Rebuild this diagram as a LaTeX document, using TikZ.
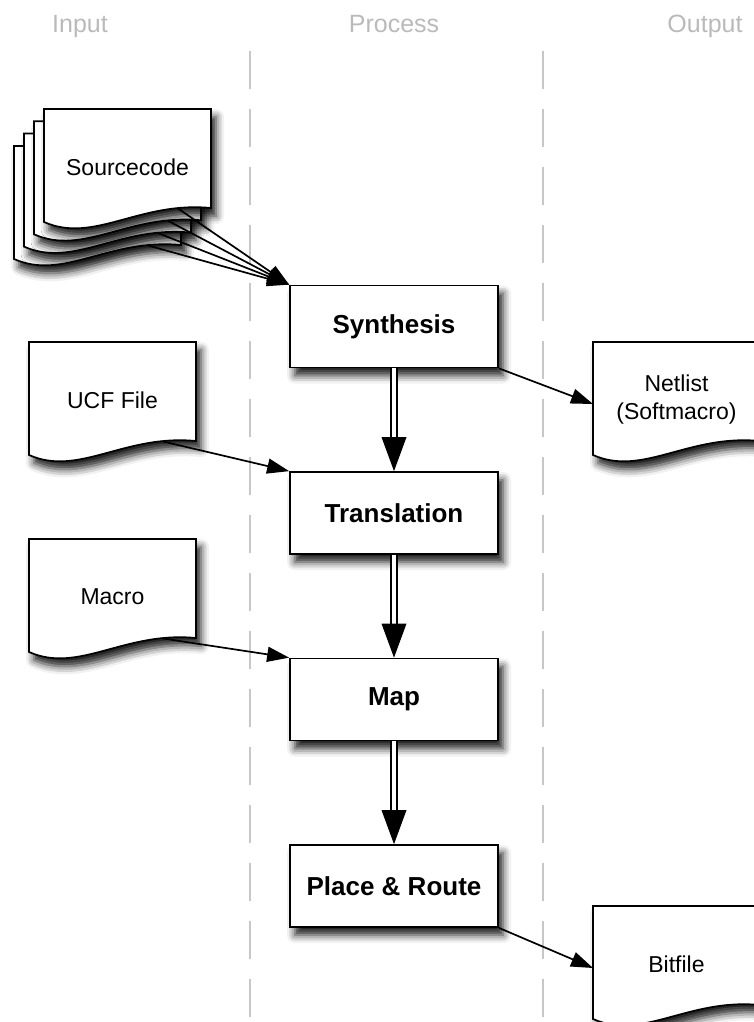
\documentclass[tikz,border=0pt]{standalone}
\usepackage{fontspec}
\setmainfont{Liberation Sans}
\usetikzlibrary{arrows.meta,shadows.blur,calc}
\newcommand\mydoc[4]{%
  \begin{scope}[shift={(#2,#3)}]
    \path[docshape] (0,0) -- (167,0) -- (167,99) .. controls (95,92) and (50,135) .. (0,113) -- cycle;
    \node[doctext] (#1) at (83.5,58) {#4};
    \coordinate (#1-out) at (134,99.5);
    \coordinate (#1-in) at (0,62);
  \end{scope}}
\begin{document}
\begin{tikzpicture}[x=1pt,y=-1pt,
  lane/.style={draw=black!22, line width=2pt, dash pattern=on 38pt off 20pt},
  header/.style={text=black!27, font=\fontsize{25}{30}\selectfont, inner sep=0pt, anchor=base},
  myshadow/.style={blur shadow={shadow xshift=5pt, shadow yshift=-8pt, shadow blur radius=8pt, shadow opacity=90}},
  procbox/.style={draw=black, line width=1.7pt, fill=white, minimum width=208pt, minimum height=82pt, inner sep=0pt, font=\fontsize{26}{30}\selectfont\bfseries, myshadow},
  docshape/.style={draw=black, line width=1.7pt, fill=white, myshadow},
  doctext/.style={font=\fontsize{23}{28}\selectfont, align=center, inner sep=0pt},
  conn/.style={draw=black, line width=1.7pt, -{Triangle[length=22pt,width=15pt]}},
  dblshaft/.style={draw=black, double=white, double distance=3.5pt, line width=2.2pt},
]
\useasboundingbox (0,0) rectangle (754,1022);
% lanes
\coordinate (l1t) at (249.5,51); \coordinate (l1b) at (249.5,1022);
\coordinate (l2t) at (543,51);   \coordinate (l2b) at (543,1022);
\draw[lane] (l1t) -- (l1b);
\draw[lane] (l2t) -- (l2b);
% headers
\node[header] (hin) at (80,33) {Input};
\node[header] (hpr) at (394,33) {Process};
\node[header] (hout) at (705,33) {Output};
% source code stack
\mydoc{src4}{14}{146}{}
\mydoc{src3}{24}{133.6}{}
\mydoc{src2}{34}{121.3}{}
\mydoc{src1}{44}{109}{Sourcecode}
% input documents
\mydoc{ucf}{29}{342}{UCF File}
\mydoc{mac}{29}{539}{Macro}
% output documents
\mydoc{net}{593}{342}{Netlist\\(Softmacro)}
\mydoc{bit}{593}{906}{Bitfile}
% process boxes
\node[procbox] (syn) at (394,326.5) {Synthesis};
\node[procbox] (tra) at (394,513) {Translation};
\node[procbox] (map) at (394,699.5) {Map};
\node[procbox] (par) at (394,886) {Place \& Route};
% double arrows
\foreach \a/\b in {syn/tra, tra/map, map/par}{
  \draw[dblshaft, shorten >=33pt] (\a.south) -- (\b.north);
  \fill[black] (\b.north) -- ++(-12.5,-34) -- ++(25,0) -- cycle;
}
% connectors
\foreach \s in {src4,src3,src2,src1}{
  \draw[conn] (\s-out) -- (syn.north west);
}
\draw[conn] (ucf-out) -- (tra.north west);
\draw[conn] (mac-out) -- (map.north west);
\draw[conn] (syn.south east) -- (net-in);
\draw[conn] (par.south east) -- (bit-in);
\end{tikzpicture}
\end{document}
